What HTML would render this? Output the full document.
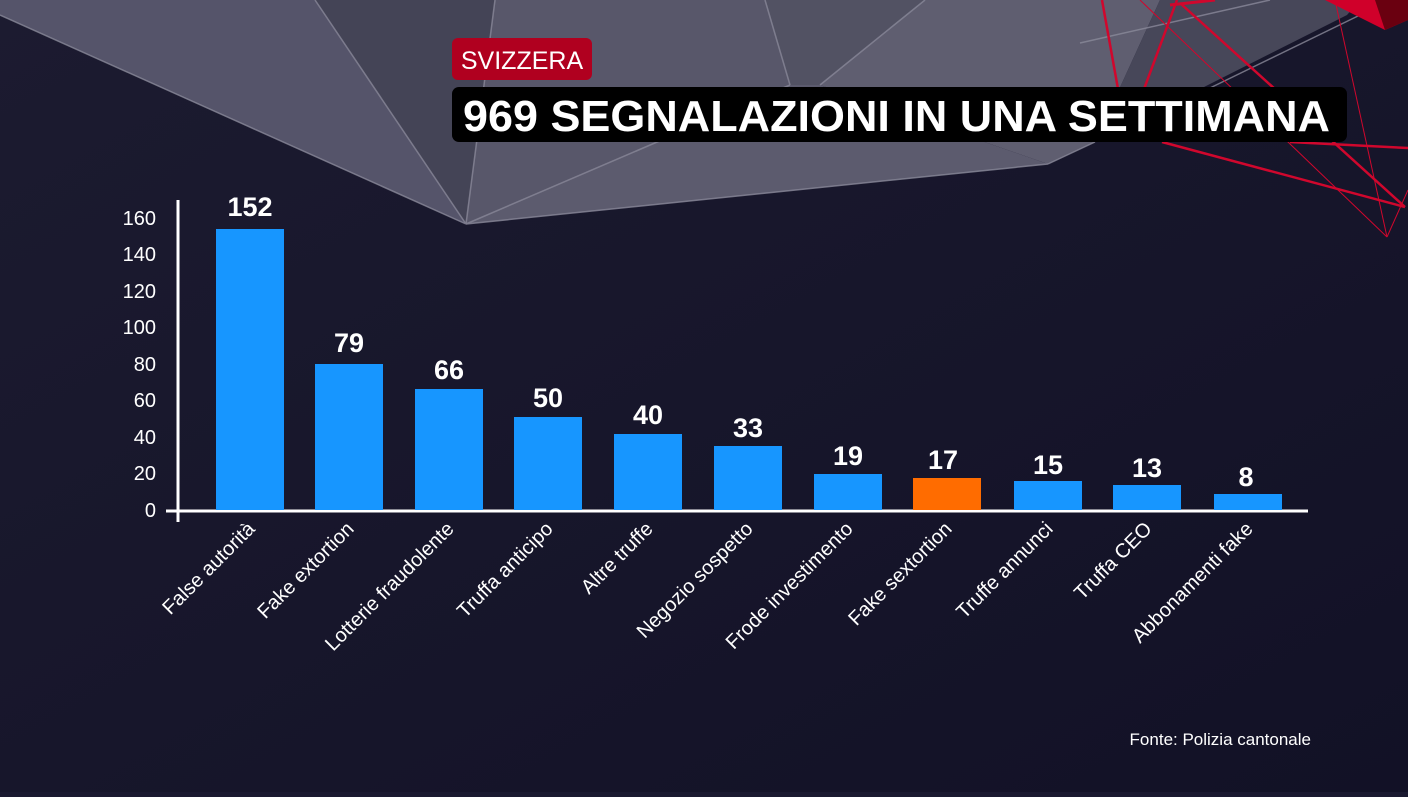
<!DOCTYPE html>
<html><head><meta charset="utf-8"><style>
html,body{margin:0;padding:0;}
body{width:1408px;height:792px;overflow:hidden;background:#1a1930;font-family:"Liberation Sans","DejaVu Sans",sans-serif;}
</style></head><body>
<svg width="1408" height="792" viewBox="0 0 1408 792" xmlns="http://www.w3.org/2000/svg">
<defs>
<linearGradient id="bg" x1="0" y1="0" x2="1" y2="1">
<stop offset="0" stop-color="#1c1b30"/><stop offset="1" stop-color="#121126"/>
</linearGradient>
</defs>
<rect width="1408" height="792" fill="url(#bg)"/>
<polygon points="0,0 315,0 466,224 0,15" fill="#55546a"/>
<polygon points="315,0 495,0 466,224" fill="#444456"/>
<polygon points="495,0 765,0 790,85 466,224" fill="#58576a"/>
<polygon points="765,0 925,0 820,85 790,85" fill="#525263"/>
<polygon points="925,0 1160,0 1095,142 1048,164 820,85" fill="#5f5e70"/>
<polygon points="790,85 820,85 1048,164 466,224" fill="#5c5b6e"/>
<polygon points="1160,0 1360,0 1347,15 1095,142" fill="#474759"/>
<g stroke="#8a899a" stroke-width="1.5" fill="none" opacity="0.8">
<line x1="0" y1="15" x2="466" y2="224"/>
<line x1="315" y1="0" x2="466" y2="224"/>
<line x1="495" y1="0" x2="466" y2="224"/>
<line x1="466" y1="224" x2="1048" y2="164"/>
<line x1="466" y1="224" x2="790" y2="85"/>
<line x1="765" y1="0" x2="790" y2="85"/>
<line x1="925" y1="0" x2="820" y2="85"/>
<line x1="1048" y1="164" x2="1095" y2="142"/>
<line x1="1080" y1="43" x2="1270" y2="0"/>
<line x1="1210" y1="88" x2="1360" y2="15"/>
</g>
<g stroke="#d0072d" fill="none">
<line x1="1102" y1="0" x2="1120" y2="100" stroke-width="2.5"/>
<line x1="1177" y1="0" x2="1140" y2="100" stroke-width="2.5"/>
<line x1="1180" y1="3" x2="1405" y2="207" stroke-width="2.5"/>
<line x1="1162" y1="142" x2="1405" y2="207" stroke-width="2.5"/>
<line x1="1290" y1="142" x2="1408" y2="148" stroke-width="2.5"/>
<line x1="1140" y1="0" x2="1387" y2="237" stroke-width="1"/>
<line x1="1335" y1="0" x2="1387" y2="237" stroke-width="1"/>
<line x1="1387" y1="237" x2="1408" y2="190" stroke-width="1"/>
<line x1="1170" y1="5" x2="1215" y2="0" stroke-width="3"/>
</g>
<polygon points="1325,0 1408,0 1408,20 1385,30" fill="#d0002a"/>
<polygon points="1375,0 1408,0 1408,20 1385,30" fill="#6a0010"/>
<rect x="452" y="38" width="140" height="42" rx="6" fill="#b0001f"/>
<text x="522" y="69" text-anchor="middle" fill="#fff" font-size="25">SVIZZERA</text>
<rect x="452" y="87" width="895" height="55" rx="7" fill="#000"/>
<text x="463" y="131" fill="#fff" font-size="44" font-weight="bold" textLength="867" lengthAdjust="spacingAndGlyphs">969 SEGNALAZIONI IN UNA SETTIMANA</text>
<line x1="178" y1="200" x2="178" y2="522" stroke="#fff" stroke-width="3"/>
<line x1="166" y1="511" x2="1308" y2="511" stroke="#fff" stroke-width="3"/>
<g fill="#fff" font-size="20" text-anchor="end">
<text x="156" y="225">160</text><text x="156" y="261">140</text><text x="156" y="298">120</text>
<text x="156" y="334">100</text><text x="156" y="371">80</text><text x="156" y="407">60</text>
<text x="156" y="444">40</text><text x="156" y="480">20</text><text x="156" y="517">0</text>
</g>
<g fill="#1796ff">
<rect x="216" y="229" width="68" height="281"/>
<rect x="315" y="364" width="68" height="146"/>
<rect x="415" y="389" width="68" height="121"/>
<rect x="514" y="417" width="68" height="93"/>
<rect x="614" y="434" width="68" height="76"/>
<rect x="714" y="446" width="68" height="64"/>
<rect x="814" y="474" width="68" height="36"/>
<rect x="913" y="478" width="68" height="32" fill="#ff6c00"/>
<rect x="1014" y="481" width="68" height="29"/>
<rect x="1113" y="485" width="68" height="25"/>
<rect x="1214" y="494" width="68" height="16"/>
</g>
<g fill="#fff" font-size="27" font-weight="bold" text-anchor="middle">
<text x="250" y="216">152</text><text x="349" y="352">79</text><text x="449" y="379">66</text>
<text x="548" y="407">50</text><text x="648" y="424">40</text><text x="748" y="437">33</text>
<text x="848" y="465">19</text><text x="943" y="469">17</text><text x="1048" y="474">15</text>
<text x="1147" y="477">13</text><text x="1246" y="486">8</text>
</g>
<g fill="#fff" font-size="20" text-anchor="end">
<text transform="translate(256,530) rotate(-45)">False autorità</text>
<text transform="translate(355,530) rotate(-45)">Fake extortion</text>
<text transform="translate(455,530) rotate(-45)">Lotterie fraudolente</text>
<text transform="translate(554,530) rotate(-45)">Truffa anticipo</text>
<text transform="translate(654,530) rotate(-45)">Altre truffe</text>
<text transform="translate(754,530) rotate(-45)">Negozio sospetto</text>
<text transform="translate(854,530) rotate(-45)">Frode investimento</text>
<text transform="translate(953,530) rotate(-45)">Fake sextortion</text>
<text transform="translate(1054,530) rotate(-45)">Truffe annunci</text>
<text transform="translate(1153,530) rotate(-45)">Truffa CEO</text>
<text transform="translate(1254,530) rotate(-45)">Abbonamenti fake</text>
</g>
<text x="1311" y="745" text-anchor="end" fill="#fff" font-size="17">Fonte: Polizia cantonale</text>
</svg>
</body></html>
